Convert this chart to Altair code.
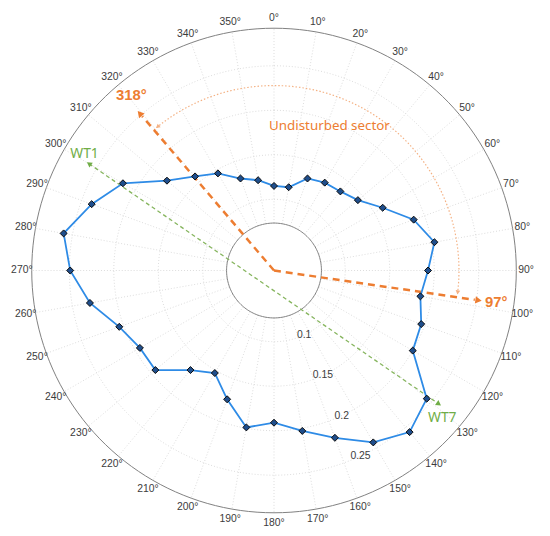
import math
import numpy as np
import pandas as pd
import altair as alt

# ---------------- data ----------------
angles = list(range(0, 360, 10))
values = [0.115, 0.115, 0.130, 0.134, 0.136, 0.143, 0.161, 0.187, 0.203, 0.193,
          0.187, 0.196, 0.200, 0.244, 0.257, 0.243, 0.220, 0.203, 0.191, 0.199,
          0.174, 0.153, 0.166, 0.194, 0.194, 0.205, 0.230, 0.249, 0.260, 0.238,
          0.216, 0.177, 0.158, 0.146, 0.130, 0.123]

angle_ticks = list(range(0, 360, 10))
angle_tick_labels = [f"{a}°" for a in angle_ticks]
r_ticks = [0.1, 0.15, 0.2, 0.25]
r_tick_labels = ["0.1", "0.15", "0.2", "0.25"]
r_tick_angle = 155

R0 = 0.02       # radial value at the centre of the plot
R_IN = 0.0733   # inner (hole) circle
R_OUT = 0.2922  # outer circle
R_LABEL = 0.3033

sector_angles = [319.5, 98.3]      # orange boundary arrows as drawn
sector_shaft_r = [0.248, 0.248]
sector_head_r = [0.2522, 0.2522]
sector_arc_r = 0.2278

turbines = ["WT1", "WT7"]
turbine_angles = [300, 129]
turbine_r = [0.26, 0.2583]

ann_text = ["318°", "97°", "Undisturbed sector", "WT1", "WT7"]
ann_theta = [320.9, 98.2, 21.0, 301.5, 131.3]
ann_r = [0.274, 0.2722, 0.1938, 0.2697, 0.2716]
ann_group = ["orange_b", "orange_b", "orange", "green", "green"]

# ---------------- helpers ----------------
D = R_OUT - R0
SC = alt.Scale(domain=[-D, D], nice=False, zero=False)


def polar(ch, r="r", t="theta", px="x", py="y"):
    return ch.transform_calculate(**{
        px: f"(datum.{r} - {R0}) * sin(datum.{t} * PI / 180)",
        py: f"(datum.{r} - {R0}) * cos(datum.{t} * PI / 180)",
    })


def X(f="x"):
    return alt.X(f"{f}:Q", scale=SC, axis=None)


def Y(f="y"):
    return alt.Y(f"{f}:Q", scale=SC, axis=None)


fine = list(np.arange(0, 361, 2))

# grid spokes
df_sp = pd.DataFrame({"theta": angle_ticks, "r1": R_IN, "r2": R_OUT})
spokes = polar(polar(alt.Chart(df_sp), r="r1"), r="r2", px="xe", py="ye").mark_rule(
    color="#dcdcdc", strokeWidth=1, strokeDash=[1, 2]
).encode(x=X(), y=Y(), x2="xe:Q", y2="ye:Q")

# grid circles
df_gc = pd.DataFrame([(r, t) for r in r_ticks for t in fine], columns=["r", "theta"])
gcircles = polar(alt.Chart(df_gc)).mark_line(
    color="#dcdcdc", strokeWidth=1, strokeDash=[1, 2]
).encode(x=X(), y=Y(), detail="r:N", order="theta:Q")

# inner & outer circles
df_bc = pd.DataFrame([(r, t) for r in [R_IN, R_OUT] for t in fine], columns=["r", "theta"])
bcircles = polar(alt.Chart(df_bc)).mark_line(
    color="#7f7f7f", strokeWidth=1
).encode(x=X(), y=Y(), detail="r:N", order="theta:Q")

# green turbine line
df_t = pd.DataFrame({"name": turbines, "theta": turbine_angles, "r": turbine_r, "i": [0, 1]})
tx = [(r - R0) * math.sin(math.radians(t)) for r, t in zip(turbine_r, turbine_angles)]
ty = [(r - R0) * math.cos(math.radians(t)) for r, t in zip(turbine_r, turbine_angles)]
df_t["ang"] = [math.degrees(math.atan2(tx[0] - tx[1], ty[0] - ty[1])),
               math.degrees(math.atan2(tx[1] - tx[0], ty[1] - ty[0]))]
green_line = polar(alt.Chart(df_t)).mark_line(
    color="#86b55e", strokeWidth=1.3, strokeDash=[4, 3]
).encode(x=X(), y=Y(), order="i:Q")
green_heads = polar(alt.Chart(df_t)).mark_point(
    shape="triangle-up", filled=True, color="#70ad47", size=36, opacity=1
).encode(x=X(), y=Y(), angle=alt.Angle("ang:Q", scale=None))

# orange sector arrows
df_s = pd.DataFrame({"theta": sector_angles, "rs": sector_shaft_r, "r": sector_head_r,
                     "c": 0.0})
orange_shafts = polar(alt.Chart(df_s), r="rs", px="xe", py="ye").transform_calculate(
    x0="datum.c", y0="datum.c"
).mark_rule(color="#ed7d31", strokeWidth=2.5, strokeDash=[7, 5]).encode(
    x=X("x0"), y=Y("y0"), x2="xe:Q", y2="ye:Q")
orange_heads = polar(alt.Chart(df_s)).mark_point(
    shape="triangle-up", filled=True, color="#ed7d31", size=55, opacity=1
).encode(x=X(), y=Y(), angle=alt.Angle("theta:Q", scale=None))

# undisturbed sector arc
arc_t = list(np.arange(sector_angles[0] - 360, sector_angles[1] + 0.01, 1.0))
df_arc = pd.DataFrame({"theta": arc_t, "r": sector_arc_r})
arc = polar(alt.Chart(df_arc)).mark_line(
    color="#f4b183", strokeWidth=1.2, strokeDash=[1.5, 2]
).encode(x=X(), y=Y(), order="theta:Q")
df_ah = pd.DataFrame({"theta": [sector_angles[0] + 1.5, sector_angles[1] - 1.5],
                      "r": sector_arc_r,
                      "ang": [sector_angles[0] - 90, sector_angles[1] + 90]})
arc_heads = polar(alt.Chart(df_ah)).mark_point(
    shape="triangle-up", filled=True, color="#f4b183", size=22, opacity=1
).encode(x=X(), y=Y(), angle=alt.Angle("ang:Q", scale=None))

# data line and markers
df_line = pd.DataFrame({"theta": angles + [angles[0] + 360],
                        "r": values + [values[0]],
                        "i": list(range(len(angles) + 1))})
line = polar(alt.Chart(df_line)).mark_line(
    color="#2e8be6", strokeWidth=1.8
).encode(x=X(), y=Y(), order="i:Q")
df_pts = pd.DataFrame({"theta": angles, "r": values})
pts = polar(alt.Chart(df_pts)).mark_point(
    shape="diamond", filled=True, fill="#1f4e8c", stroke="#0a0a0a", strokeWidth=1,
    size=50, opacity=1
).encode(x=X(), y=Y())

# angle labels
df_al = pd.DataFrame({"theta": angle_ticks, "r": R_LABEL, "label": angle_tick_labels})
alabels = polar(alt.Chart(df_al)).mark_text(
    font="Liberation Sans", fontSize=10.5, color="#3c3c3c", align="center", baseline="middle"
).encode(x=X(), y=Y(), text="label:N")

# radial labels
df_rl = pd.DataFrame({"theta": r_tick_angle, "r": r_ticks, "label": r_tick_labels})
rlabels = polar(alt.Chart(df_rl)).mark_text(
    font="Liberation Sans", fontSize=10.5, color="#3c3c3c", align="center", baseline="middle"
).encode(x=X(), y=Y(), text="label:N")

# annotations
df_ann = pd.DataFrame({"text": ann_text, "theta": ann_theta, "r": ann_r, "g": ann_group})
ann_b = polar(alt.Chart(df_ann)).transform_filter("datum.g == 'orange_b'").mark_text(
    font="Liberation Sans", fontSize=15, fontWeight="bold", color="#ed7d31",
    align="center", baseline="middle").encode(x=X(), y=Y(), text="text:N")
ann_o = polar(alt.Chart(df_ann)).transform_filter("datum.g == 'orange'").mark_text(
    font="Noto Sans", fontSize=13.5, color="#ed7d31",
    align="center", baseline="middle").encode(x=X(), y=Y(), text="text:N")
ann_g = polar(alt.Chart(df_ann)).transform_filter("datum.g == 'green'").mark_text(
    font="Noto Sans", fontSize=14, color="#70ad47",
    align="center", baseline="middle").encode(x=X(), y=Y(), text="text:N")

chart = alt.layer(
    spokes, gcircles, bcircles, arc, arc_heads, green_line, green_heads,
    orange_shafts, orange_heads, line, pts, alabels, rlabels, ann_b, ann_o, ann_g
).properties(
    width=490, height=490,
    padding={"left": 24, "top": 17.5, "right": 26, "bottom": 18},
    autosize=alt.AutoSizeParams(type="none"),
    background="white",
).configure_view(stroke=None)

chart.save("out.html", embed_options={"renderer": "svg", "actions": False})
